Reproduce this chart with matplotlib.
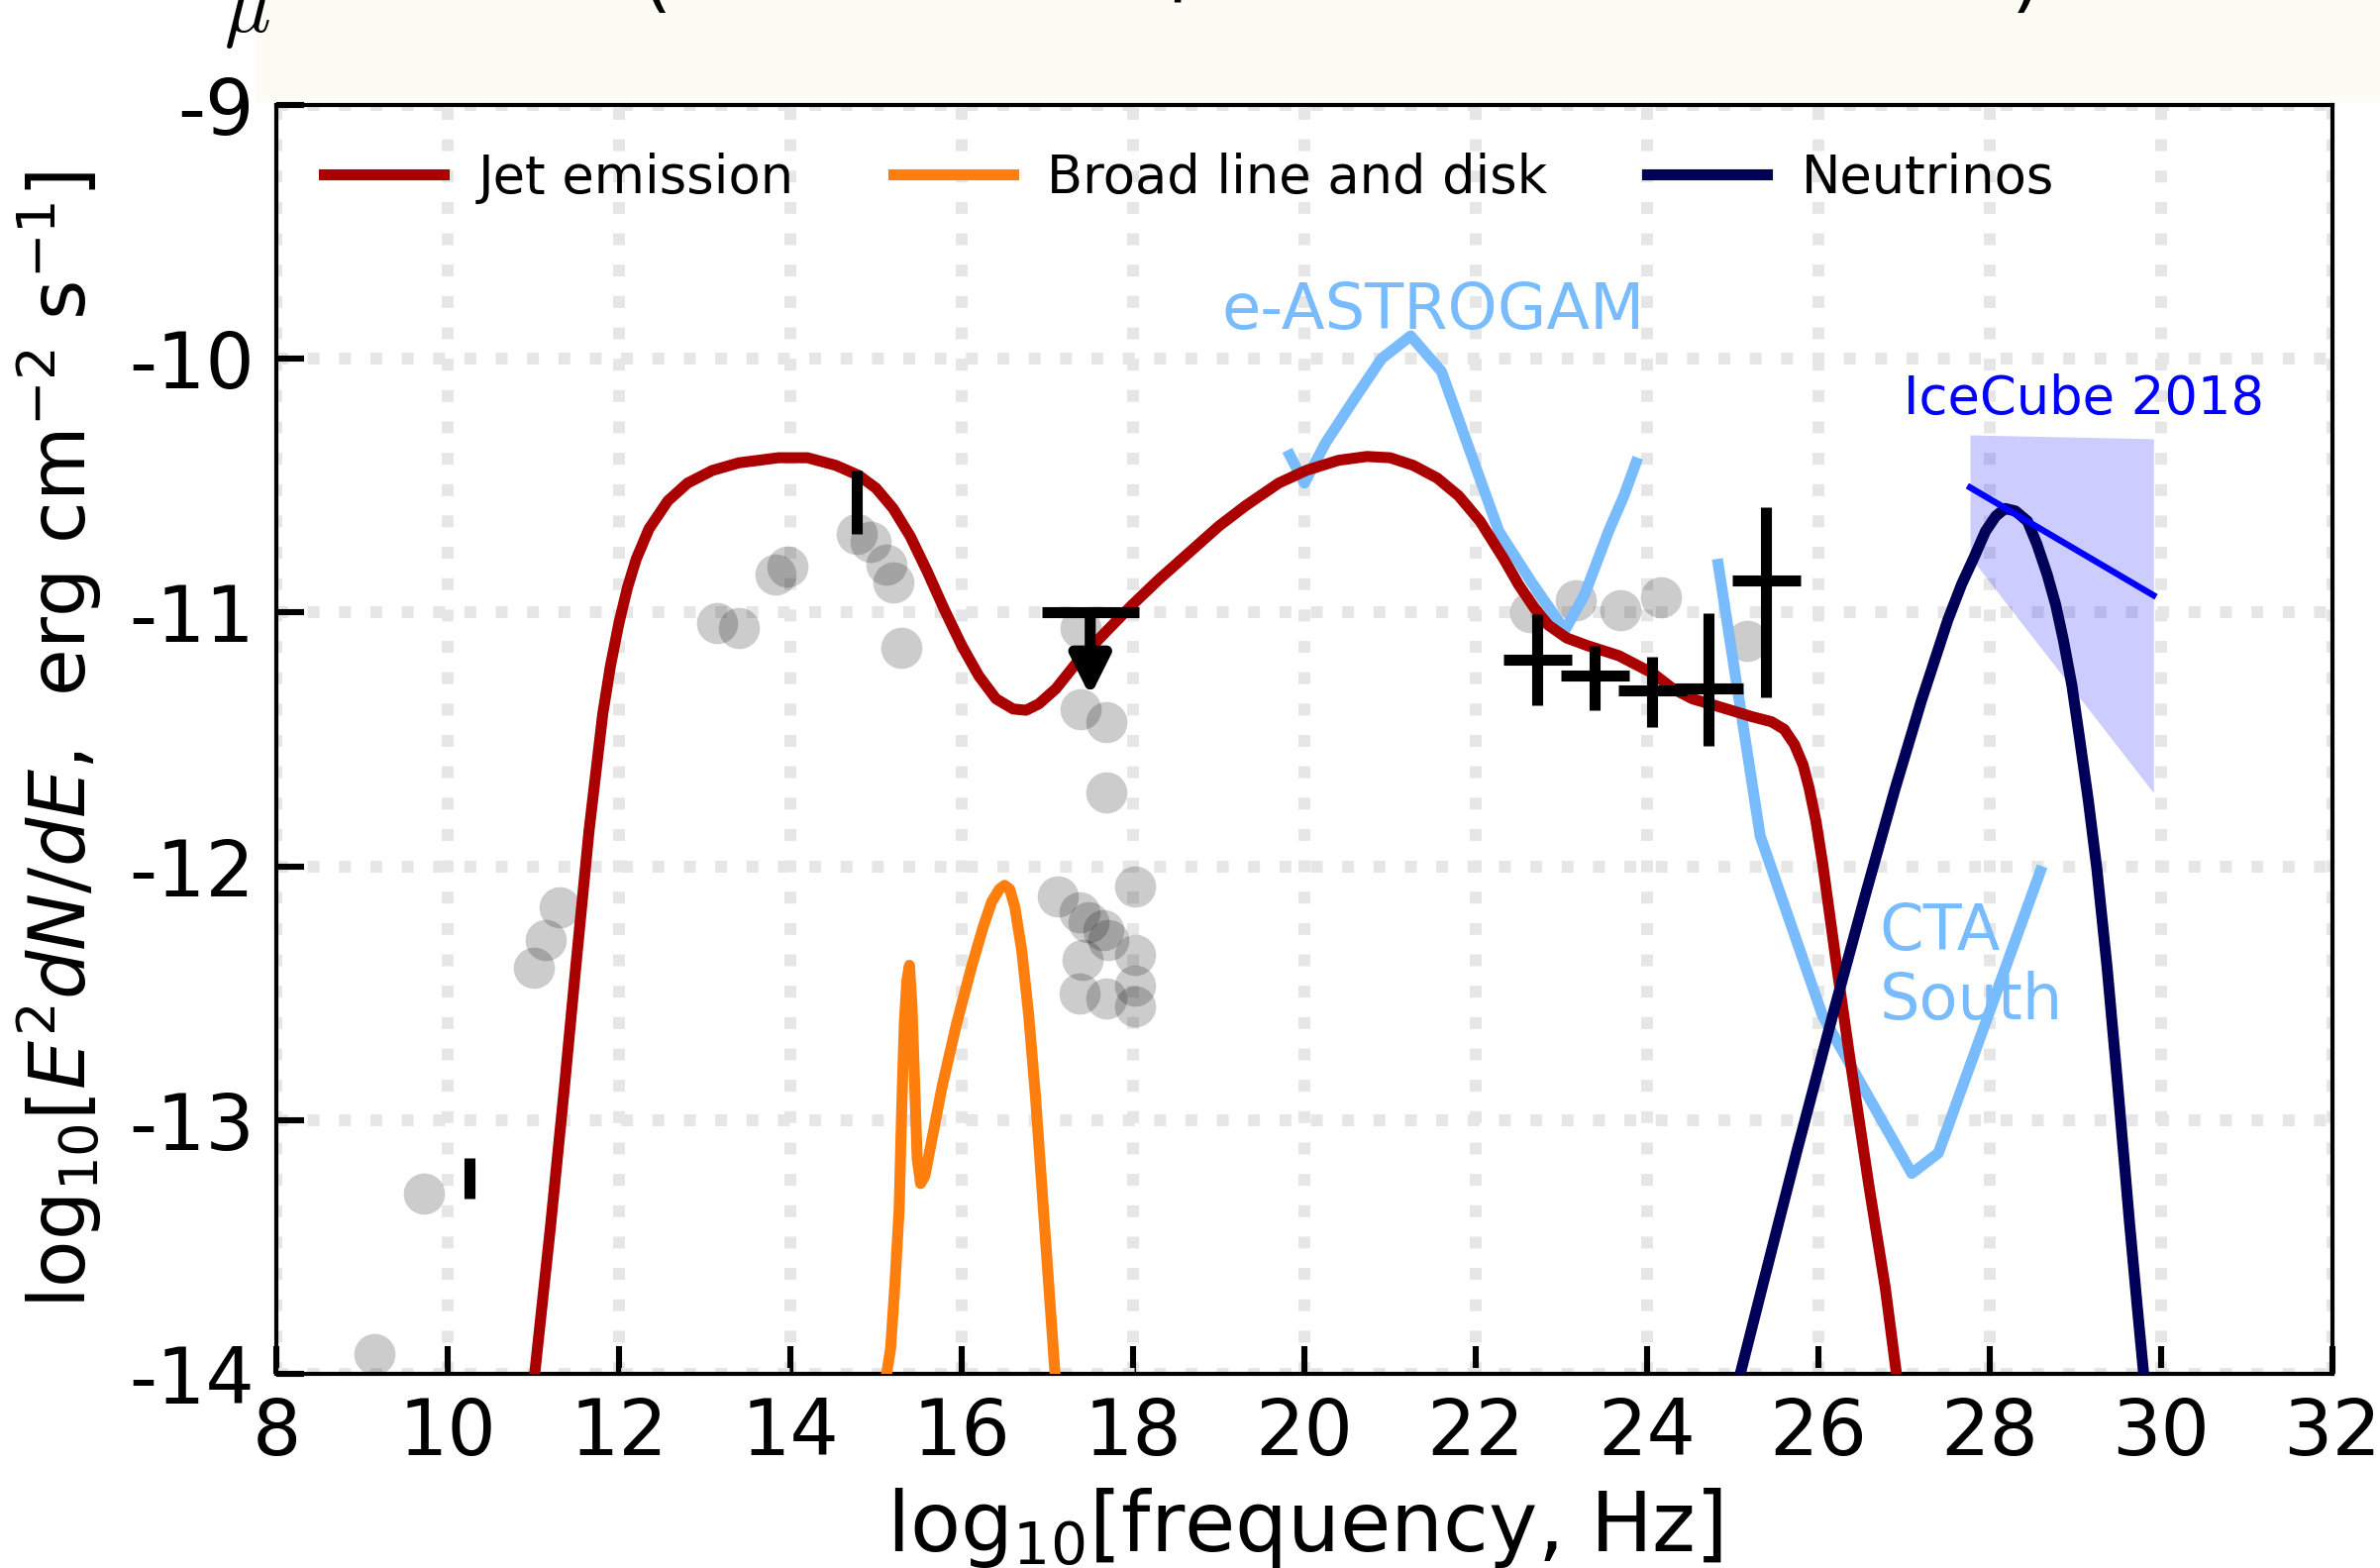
import matplotlib
matplotlib.use("Agg")
import matplotlib.pyplot as plt
from matplotlib.patches import Rectangle

plt.rcParams['axes.unicode_minus'] = False
plt.rcParams['font.family'] = 'DejaVu Sans'
plt.rcParams['mathtext.fontset'] = 'dejavusans'

# archival photometry (grey dots)
arch_x = [9.15, 9.72, 11.0, 11.15, 11.31, 13.14, 13.40, 13.83, 13.96, 14.78, 14.94,
          15.12, 15.20, 15.30, 17.39, 17.39, 17.69, 17.69, 17.12, 17.37, 17.48, 17.65,
          17.71, 17.41, 17.37, 17.69, 18.02, 18.02, 18.02, 18.02, 22.64, 23.17, 23.69,
          24.16, 25.17]
arch_y = [-13.92, -13.29, -12.40, -12.29, -12.16, -11.04, -11.06, -10.85, -10.82, -10.69,
          -10.72, -10.81, -10.88, -11.14, -11.06, -11.38, -11.43, -11.71, -12.12, -12.18,
          -12.22, -12.25, -12.29, -12.37, -12.50, -12.52, -12.08, -12.35, -12.47, -12.55,
          -11.00, -10.95, -10.99, -10.94, -11.11]

# simultaneous data with vertical error only
bar_x = [10.25, 14.78]
bar_y = [-13.23, -10.565]
bar_err = [0.08, 0.125]

# X-ray upper limit
ul_x = 17.50
ul_y = -11.0
ul_xerr = 0.565
ul_len = 0.33

# Fermi-LAT bins
lat_x = [22.72, 23.39, 24.06, 24.72, 25.39]
lat_y = [-11.186, -11.248, -11.307, -11.299, -10.873]
lat_ylo = [0.18, 0.137, 0.144, 0.226, 0.461]
lat_yhi = [0.18, 0.117, 0.133, 0.297, 0.288]
lat_xerr = [0.40, 0.40, 0.40, 0.40, 0.40]

# jet model
jet_x = [11.00, 11.20, 11.36, 11.50, 11.65, 11.81, 11.90, 12.00, 12.10, 12.20, 12.35,
         12.57, 12.80, 13.09, 13.40, 13.86, 14.20, 14.53, 14.80, 15.00, 15.20, 15.40,
         15.60, 15.80, 16.00, 16.20, 16.40, 16.60, 16.75, 16.90, 17.10, 17.36, 17.70,
         17.99, 18.30, 18.60, 19.00, 19.31, 19.70, 20.02, 20.40, 20.73, 21.00, 21.27,
         21.55, 21.80, 22.05, 22.33, 22.50, 22.68, 22.85, 23.06, 23.30, 23.67, 24.07,
         24.30, 24.53, 24.83, 25.22, 25.45, 25.60, 25.72, 25.82, 25.89, 25.97, 26.05,
         26.20, 26.36, 26.59, 26.78, 26.93]
jet_y = [-14.05, -13.42, -12.88, -12.38, -11.86, -11.40, -11.21, -11.04, -10.90, -10.79,
         -10.67, -10.56, -10.49, -10.44, -10.41, -10.39, -10.39, -10.42, -10.46, -10.51,
         -10.59, -10.70, -10.84, -10.99, -11.13, -11.25, -11.34, -11.38, -11.385, -11.36,
         -11.30, -11.19, -11.07, -10.97, -10.87, -10.78, -10.66, -10.58, -10.49, -10.44,
         -10.40, -10.385, -10.39, -10.42, -10.47, -10.54, -10.64, -10.79, -10.89, -10.98,
         -11.05, -11.10, -11.13, -11.17, -11.24, -11.30, -11.34, -11.37, -11.41, -11.43,
         -11.46, -11.52, -11.60, -11.69, -11.82, -11.99, -12.36, -12.74, -13.26, -13.66,
         -14.05]

# broad line region + accretion disk
bld_x = [15.10, 15.17, 15.22, 15.27, 15.30, 15.33, 15.36, 15.39, 15.42, 15.45, 15.48,
         15.52, 15.57, 15.65, 15.77, 15.94, 16.12, 16.25, 16.35, 16.44, 16.50, 16.56,
         16.62, 16.70, 16.78, 16.86, 16.97, 17.10]
bld_y = [-14.05, -13.90, -13.65, -13.35, -12.95, -12.62, -12.45, -12.39, -12.55, -12.85,
         -13.15, -13.25, -13.22, -13.08, -12.87, -12.62, -12.39, -12.24, -12.14, -12.09,
         -12.075, -12.09, -12.16, -12.33, -12.58, -12.90, -13.43, -14.05]

# neutrino spectrum
nu_x = [25.05, 25.35, 25.75, 26.18, 26.55, 26.89, 27.20, 27.51, 27.67, 27.82, 27.95,
        28.07, 28.18, 28.30, 28.44, 28.55, 28.67, 28.77, 28.86, 28.96, 29.05, 29.15,
        29.25, 29.37, 29.49, 29.63, 29.72, 29.81]
nu_y = [-14.05, -13.65, -13.12, -12.57, -12.11, -11.70, -11.35, -11.03, -10.89, -10.78,
        -10.68, -10.62, -10.59, -10.60, -10.64, -10.73, -10.85, -10.97, -11.11, -11.29,
        -11.50, -11.74, -12.01, -12.40, -12.85, -13.40, -13.73, -14.05]

# instrument sensitivities
astro_x = [19.83, 20.0, 20.25, 20.6, 20.9, 21.24, 21.6, 21.95, 22.27, 22.65, 23.04,
           23.27, 23.55, 23.73, 23.87]
astro_y = [-10.38, -10.49, -10.33, -10.15, -10.0, -9.91, -10.05, -10.38, -10.68, -10.88,
           -11.07, -10.93, -10.68, -10.54, -10.41]
cta_x = [24.83, 25.32, 26.05, 27.09, 27.40, 28.59]
cta_y = [-10.81, -11.88, -12.59, -13.21, -13.13, -12.02]

# IceCube 2018 flux and uncertainty band
ic_x = [27.77, 29.91]
ic_y = [-10.507, -10.932]
ic_hi = [-10.30, -10.315]
ic_lo = [-10.78, -11.71]

red = '#aa0000'
orange = '#ff7f0e'
navy = '#000058'
sky = '#78bcff'

fig = plt.figure(figsize=(12.015, 7.915), dpi=200)
fig.patches.append(Rectangle((258 / 2403, 1 - 103 / 1583), 1, 1, transform=fig.transFigure,
                             facecolor='#fcfcf4', edgecolor='none', zorder=-5))
# bottom of the title line, mostly outside the canvas
fig.text(226 / 2403, 1 - 32 / 1583, r'$\mu$', fontsize=28, ha='left', va='baseline',
         math_fontfamily='cm')
fig.text(663 / 2403, 1 - 3 / 1583, '(', fontsize=28, ha='center', va='baseline')
fig.text(1188 / 2403, 1 + 16 / 1583, '|', fontsize=28, ha='center', va='baseline')
fig.text(2046 / 2403, 1 - 3 / 1583, ')', fontsize=28, ha='center', va='baseline')

ax = fig.add_axes([279 / 2403, 1 - 1387 / 1583, 2076 / 2403, 1281 / 1583])
ax.set_axisbelow(True)
ax.grid(True, linestyle=':', color='#e6e6e6', linewidth=4.3)

ax.plot(arch_x, arch_y, 'o', color='k', alpha=0.2, ms=15, mew=0, zorder=1)

l_jet, = ax.plot(jet_x, jet_y, color=red, lw=4, label='Jet emission', zorder=3)
l_bld, = ax.plot(bld_x, bld_y, color=orange, lw=4, label='Broad line and disk', zorder=3)
l_nu, = ax.plot(nu_x, nu_y, color=navy, lw=4, label='Neutrinos', zorder=3)

ax.plot(astro_x, astro_y, color=sky, lw=4, zorder=2)
ax.plot(cta_x, cta_y, color=sky, lw=4, zorder=2)

ax.fill_between(ic_x, ic_lo, ic_hi, color='blue', alpha=0.2, lw=0, zorder=1)
ax.plot(ic_x, ic_y, color='blue', lw=2.3, zorder=3)

ax.errorbar(bar_x, bar_y, yerr=bar_err, fmt='none', ecolor='k', elinewidth=4, zorder=4)
ax.errorbar(lat_x, lat_y, xerr=lat_xerr, yerr=[lat_ylo, lat_yhi], fmt='none', ecolor='k',
            elinewidth=4, zorder=4)
ax.errorbar([ul_x], [ul_y], xerr=ul_xerr, fmt='none', ecolor='k', elinewidth=4, zorder=4)
ax.annotate('', xy=(ul_x, ul_y - ul_len), xytext=(ul_x, ul_y),
            arrowprops=dict(arrowstyle='-|>', lw=4, color='k', mutation_scale=30,
                            shrinkA=0, shrinkB=0), zorder=4)

ax.text(21.51, -9.81, 'e-ASTROGAM', color=sky, fontsize=23, ha='center', va='center')
ax.text(29.10, -10.16, 'IceCube 2018', color='blue', fontsize=19, ha='center', va='center')
ax.text(26.71, -12.14, 'CTA\nSouth', color=sky, fontsize=23, ha='left', va='top',
        linespacing=1.15)

ax.legend(handles=[l_jet, l_bld, l_nu], loc='upper left', ncol=3, frameon=False,
          fontsize=19, handlelength=2.3, handletextpad=0.65, columnspacing=1.9)

ax.set_xlim(8, 32)
ax.set_ylim(-14, -9)
ax.set_xticks(range(8, 33, 2))
ax.set_yticks(range(-14, -8))
ax.tick_params(direction='in', length=10, width=2.2, labelsize=28, pad=8)
for s in ax.spines.values():
    s.set_linewidth(1.5)

ax.set_xlabel(r'log$_{10}$[frequency, Hz]', fontsize=30)
ax.set_ylabel(r'log$_{10}$[$E^2dN/dE$,  erg cm$^{-2}$ s$^{-1}$]', fontsize=28)
ax.xaxis.set_label_coords(0.5, -0.088)
ax.yaxis.set_label_coords(-0.084, 0.5)

fig.savefig('out.png', dpi=200)
